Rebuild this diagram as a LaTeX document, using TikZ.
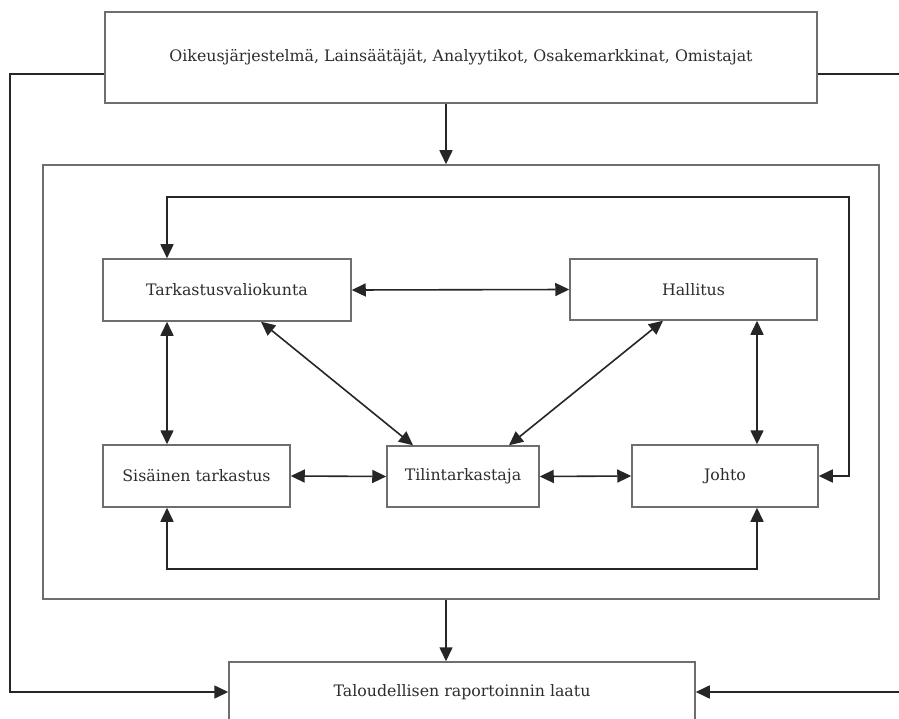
\documentclass[tikz,border=0pt]{standalone}
\usepackage{fontspec}
\setmainfont{DejaVu Serif}
\usepackage{xcolor}
\usetikzlibrary{arrows.meta, positioning, calc}
\definecolor{framecolor}{RGB}{110,110,110}
\definecolor{textcolor}{RGB}{45,45,45}

\begin{document}
\begin{tikzpicture}[x=1pt, y=-1pt]
    % Define box and arrow styles
    \tikzstyle{box}=[rectangle, draw=framecolor, line width=1.5pt, fill=white, inner sep=0pt, text=textcolor, font=\fontsize{15.8}{18}\selectfont]
    \tikzstyle{arr}=[line width=1.6pt, draw=black!85, -{Triangle[length=14pt, width=13pt]}]
    \tikzstyle{dbl}=[line width=1.6pt, draw=black!85, {Triangle[length=14pt, width=13pt]}-{Triangle[length=14pt, width=13pt]}]

    \useasboundingbox (0,0) rectangle (899,719);

    % Outer boxes
    \node[box, minimum width=712pt, minimum height=91pt] at (461,57.5) (src) {Oikeusjärjestelmä, Lainsäätäjät, Analyytikot, Osakemarkkinat, Omistajat};
    \node[box, minimum width=836pt, minimum height=434pt] at (461,382) (frame) {};
    \node[box, minimum width=466pt, minimum height=60pt] at (462,692) (laatu) {Taloudellisen raportoinnin laatu};

    % Top row
    \node[box, minimum width=248pt, minimum height=62pt] at (227,290) (tark) {Tarkastusvaliokunta};
    \node[box, minimum width=247pt, minimum height=61pt] at (693.5,289.5) (hall) {Hallitus};

    % Bottom row
    \node[box, minimum width=187pt, minimum height=62pt] at (196.5,476) (sis) {Sisäinen tarkastus};
    \node[box, minimum width=152pt, minimum height=61pt] at (463,476.5) (tilin) {Tilintarkastaja};
    \node[box, minimum width=186pt, minimum height=62pt] at (725,476) (johto) {Johto};

    % Loop corners and outer line ends
    \coordinate (loopne) at (849,197);
    \coordinate (loopsw) at (167,569);
    \coordinate (lft) at (10,0);
    \coordinate (rgt) at (905,0);

    % Outer connectors
    \draw[arr] ([xshift=-15pt]src.south) -- ([xshift=-15pt]src.south |- frame.north);
    \draw[arr] ([xshift=-15pt]frame.south) -- ([xshift=-15pt]frame.south |- laatu.north);
    \draw[arr] ([yshift=-16.5pt]src.west) -- ([yshift=-16.5pt]src.west -| lft) |- (laatu.west);
    \draw[arr] ([yshift=-16.5pt]src.east) -- ([yshift=-16.5pt]src.east -| rgt) |- (laatu.east);

    % Inner connectors
    \draw[dbl] (tark.east) -- (hall.west);
    \draw[dbl] (sis.east) -- (tilin.west);
    \draw[dbl] (tilin.east) -- (johto.west);
    \draw[dbl] ([xshift=-60pt]tark.south) -- ([xshift=-60pt]tark.south |- sis.north);
    \draw[dbl] ([xshift=63.5pt]hall.south) -- ([xshift=63.5pt]hall.south |- johto.north);
    \draw[dbl] ([xshift=34pt]tark.south) -- ([xshift=-50pt]tilin.north);
    \draw[dbl] ([xshift=-30.5pt]hall.south) -- ([xshift=46pt]tilin.north);
    \draw[dbl] (johto.east) -| (loopne) -| ([xshift=-60pt]tark.north);
    \draw[dbl] ([xshift=-29.5pt]sis.south) -- (loopsw) -| ([xshift=32pt]johto.south);

\end{tikzpicture}
\end{document}
